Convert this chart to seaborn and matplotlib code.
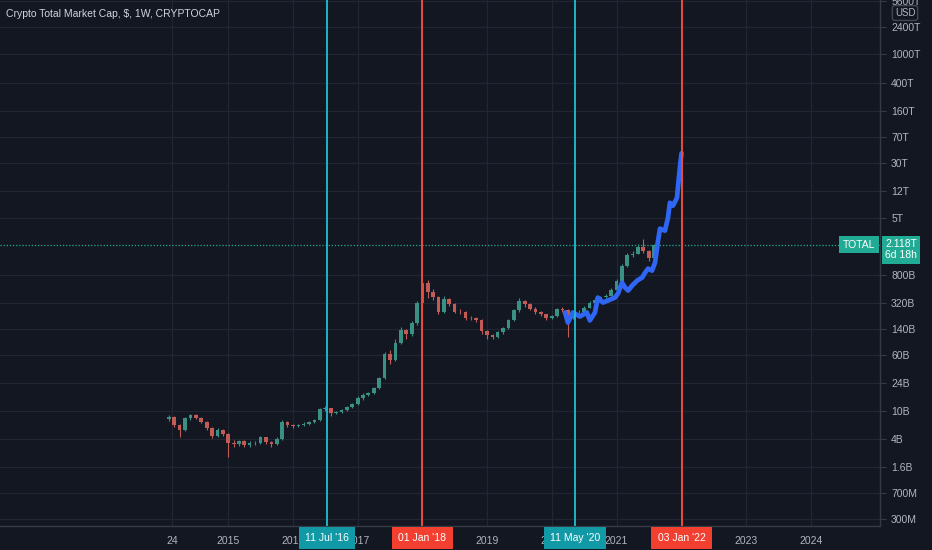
import pandas as pd
import matplotlib
matplotlib.use('Agg')
import matplotlib.pyplot as plt
from matplotlib.ticker import NullLocator
import seaborn as sns

# Monthly candles (billions USD)
months = pd.date_range('2014-02-01', periods=91, freq='MS')
close_b = [8.0, 6.2, 5.3, 7.8, 8.6, 7.8, 6.9, 5.6, 4.4, 5.3,
           4.65, 3.5, 3.4, 3.7, 3.25, 3.5, 3.55, 4.2, 3.6, 3.4,
           4.0, 6.9, 6.2, 6.0, 6.2, 6.4, 6.9, 7.3, 10.4, 10.8,
           9.2, 9.5, 10.1, 11.1, 12.2, 14.9, 16.4, 17.5, 20.5, 28.3,
           63, 52, 90, 133, 117, 167, 318, 625, 468, 398,
           245, 373, 308, 245, 238, 196, 198, 184, 129, 113,
           106, 125, 142, 184, 254, 350, 308, 270, 238, 223,
           196, 209, 262, 254, 196, 238, 245, 279, 328, 361,
           398, 411, 499, 667, 1081, 1542, 1592, 1999, 1758, 1400,
           2118]
high_b = [8.6, 8.4, 6.5, 8.2, 9.0, 8.9, 8.0, 7.1, 5.8, 5.6,
          5.5, 4.8, 3.8, 3.9, 3.8, 3.7, 3.7, 4.4, 4.3, 3.7,
          4.2, 7.4, 7.2, 6.5, 6.5, 6.8, 7.1, 7.7, 11.0, 11.6,
          11.0, 9.9, 10.4, 11.4, 12.6, 15.8, 17.6, 18.3, 21.5, 29.8,
          66, 70, 100, 150, 140, 180, 340, 711, 680, 500,
          410, 400, 380, 320, 270, 250, 215, 205, 190, 135,
          120, 130, 148, 190, 265, 375, 360, 320, 280, 250,
          230, 218, 272, 285, 262, 248, 258, 290, 345, 378,
          410, 430, 520, 700, 1130, 1620, 1750, 2150, 2587, 1800,
          2200]
low_b = [7.2, 5.8, 4.2, 5.1, 7.4, 7.5, 6.6, 5.3, 4.1, 4.2,
         4.4, 2.2, 3.1, 3.2, 3.1, 3.1, 3.3, 3.4, 3.4, 3.1,
         3.3, 3.9, 5.8, 5.7, 5.8, 6.0, 6.2, 6.7, 7.1, 9.9,
         8.5, 8.9, 9.3, 9.9, 10.8, 11.9, 14.2, 15.8, 17.0, 20.0,
         27.5, 45, 50, 85, 100, 112, 160, 300, 380, 360,
         225, 235, 290, 235, 225, 185, 185, 175, 120, 102,
         100, 103, 120, 138, 178, 245, 285, 255, 225, 212,
         188, 190, 205, 240, 106, 190, 232, 240, 272, 318,
         345, 385, 400, 490, 650, 1050, 1450, 1560, 1650, 1250,
         1380]
open_b = [7.5] + close_b[:-1]

# Blue fractal projection (billions USD)
proj_dates = ['2020-03-16', '2020-04-01', '2020-04-29', '2020-06-08', '2020-07-17',
              '2020-08-03', '2020-09-01', '2020-09-17', '2020-10-16', '2020-11-13',
              '2020-12-23', '2021-01-09', '2021-02-01', '2021-02-18', '2021-03-07',
              '2021-03-30', '2021-04-27', '2021-05-25', '2021-06-11', '2021-06-28',
              '2021-07-20', '2021-08-06', '2021-08-23', '2021-09-03', '2021-10-01',
              '2021-10-18', '2021-10-29', '2021-11-15', '2021-12-08', '2021-12-13',
              '2021-12-27', '2022-01-03']
proj_b = [238, 172, 238, 209, 238,
          184, 238, 385, 328, 350,
          385, 439, 625, 532, 483,
          568, 667, 735, 863, 982,
          920, 1191, 2425, 3572, 3350,
          5093, 8260, 7499, 9700, 13400,
          30000, 41000]

# Vertical event lines
event_dates = ['2016-07-11', '2018-01-01', '2020-05-11', '2022-01-03']
event_labels = ["11 Jul '16", "01 Jan '18", "11 May '20", "03 Jan '22"]
event_colors = ['#22b3c4', '#f04a3c', '#22b3c4', '#f04a3c']
event_box_colors = ['#119aa6', '#f23f30', '#119aa6', '#f23f30']

# Axis ticks (2018 and 2022 sit under the event boxes)
x_tick_dates = ['2014-02-17', '2015-01-01', '2016-01-01', '2017-01-01', '2018-01-01',
                '2019-01-01', '2020-01-01', '2021-01-01', '2022-01-01', '2023-01-01',
                '2024-01-01']
x_tick_labels = ['24', '2015', '2016', '2017', '', '2019', '2020', '2021',
                 '', '2023', '2024']
y_tick_vals = [0.3, 0.7, 1.6, 4, 10, 24, 60, 140, 320, 800, 5000, 12000, 30000,
               70000, 160000, 400000, 1e6, 2.4e6, 5.6e6]
y_tick_labels = ['300M', '700M', '1.6B', '4B', '10B', '24B', '60B', '140B', '320B',
                 '800B', '5T', '12T', '30T', '70T', '160T', '400T', '1000T', '2400T',
                 '5600T']
last_value = 2118

BG = '#131722'
GRID = '#222632'
TXT = '#b2b5be'
UP = '#3a9183'
DOWN = '#c25a55'
TEAL = '#22ab94'

sns.set_theme(style='dark')
plt.rcParams['font.family'] = ['Liberation Sans', 'DejaVu Sans']

fig = plt.figure(figsize=(9.32, 5.5), dpi=100, facecolor=BG)
ax = fig.add_axes([0, 24 / 550, 880 / 932, 526 / 550])
ax.set_facecolor(BG)
ax.set_yscale('log')

# candles
cols = [UP if c >= o else DOWN for o, c in zip(open_b, close_b)]
bottoms = [min(o, c) for o, c in zip(open_b, close_b)]
heights = [abs(c - o) for o, c in zip(open_b, close_b)]
ax.vlines(months, low_b, high_b, colors=cols, linewidth=0.8, zorder=3)
ax.bar(months, heights, bottom=bottoms, width=21, color=cols, linewidth=0, zorder=3)

# projection
sns.lineplot(x=pd.to_datetime(proj_dates), y=proj_b, ax=ax, color='#2f66f5',
             linewidth=3.4, zorder=4)

# event lines and their date boxes
for d, lab, c, bc in zip(event_dates, event_labels, event_colors, event_box_colors):
    ax.axvline(pd.Timestamp(d), color=c, linewidth=1.4, zorder=5)
    ax.text(pd.Timestamp(d), -12 / 526, lab, transform=ax.get_xaxis_transform(),
            ha='center', va='center', color='white', fontsize=7.5, clip_on=False,
            zorder=10, bbox=dict(boxstyle='square,pad=0.6', fc=bc, ec='none'))

# last price line and labels
ax.axhline(last_value, color=TEAL, linewidth=0.9, linestyle=(0, (1, 1.5)), zorder=2)
ax.annotate('TOTAL', xy=(1.0, last_value), xycoords=('axes fraction', 'data'),
            xytext=(-5, 0), textcoords='offset pixels', ha='right', va='center',
            color='white', fontsize=7.5, zorder=10,
            bbox=dict(boxstyle='square,pad=0.35', fc=TEAL, ec='none'))
ax.annotate('2.118T\n6d 18h', xy=(1.0, last_value), xycoords=('axes fraction', 'data'),
            xytext=(5, 6), textcoords='offset pixels', ha='left', va='top',
            color='white', fontsize=7.5, zorder=10, annotation_clip=False,
            linespacing=1.2,
            bbox=dict(boxstyle='square,pad=0.3', fc=TEAL, ec='none'))

ax.set_xlim(pd.Timestamp('2011-06-22'), pd.Timestamp('2025-01-27'))
ax.set_ylim(0.239, 5.8e6)

ax.set_xticks(pd.to_datetime(x_tick_dates))
ax.set_xticklabels(x_tick_labels)
ax.yaxis.tick_right()
ax.set_yticks(y_tick_vals)
ax.set_yticklabels(y_tick_labels)
ax.yaxis.set_minor_locator(NullLocator())
ax.tick_params(axis='x', length=0, pad=7, labelsize=7.5, colors=TXT)
ax.tick_params(axis='y', length=4, width=0.8, color='#363a45', pad=4,
               labelsize=7.5, colors=TXT)
ax.grid(True, color=GRID, linewidth=0.9)
ax.set_xlabel('')
ax.set_ylabel('')

for s in ['left', 'top']:
    ax.spines[s].set_visible(False)
for s in ['right', 'bottom']:
    ax.spines[s].set_visible(True)
    ax.spines[s].set_color('#363a45')
    ax.spines[s].set_linewidth(1)

fig.text(6 / 932, 1 - 14 / 550, 'Crypto Total Market Cap, $, 1W, CRYPTOCAP',
         color='#d1d4dc', fontsize=7.5, ha='left', va='center')
fig.text(905 / 932, 1 - 13 / 550, 'USD', color=TXT, fontsize=7, ha='center',
         va='center', bbox=dict(boxstyle='round,pad=0.25', fc='none', ec='#434651'))

fig.savefig('out.png', dpi=100, facecolor=BG)
